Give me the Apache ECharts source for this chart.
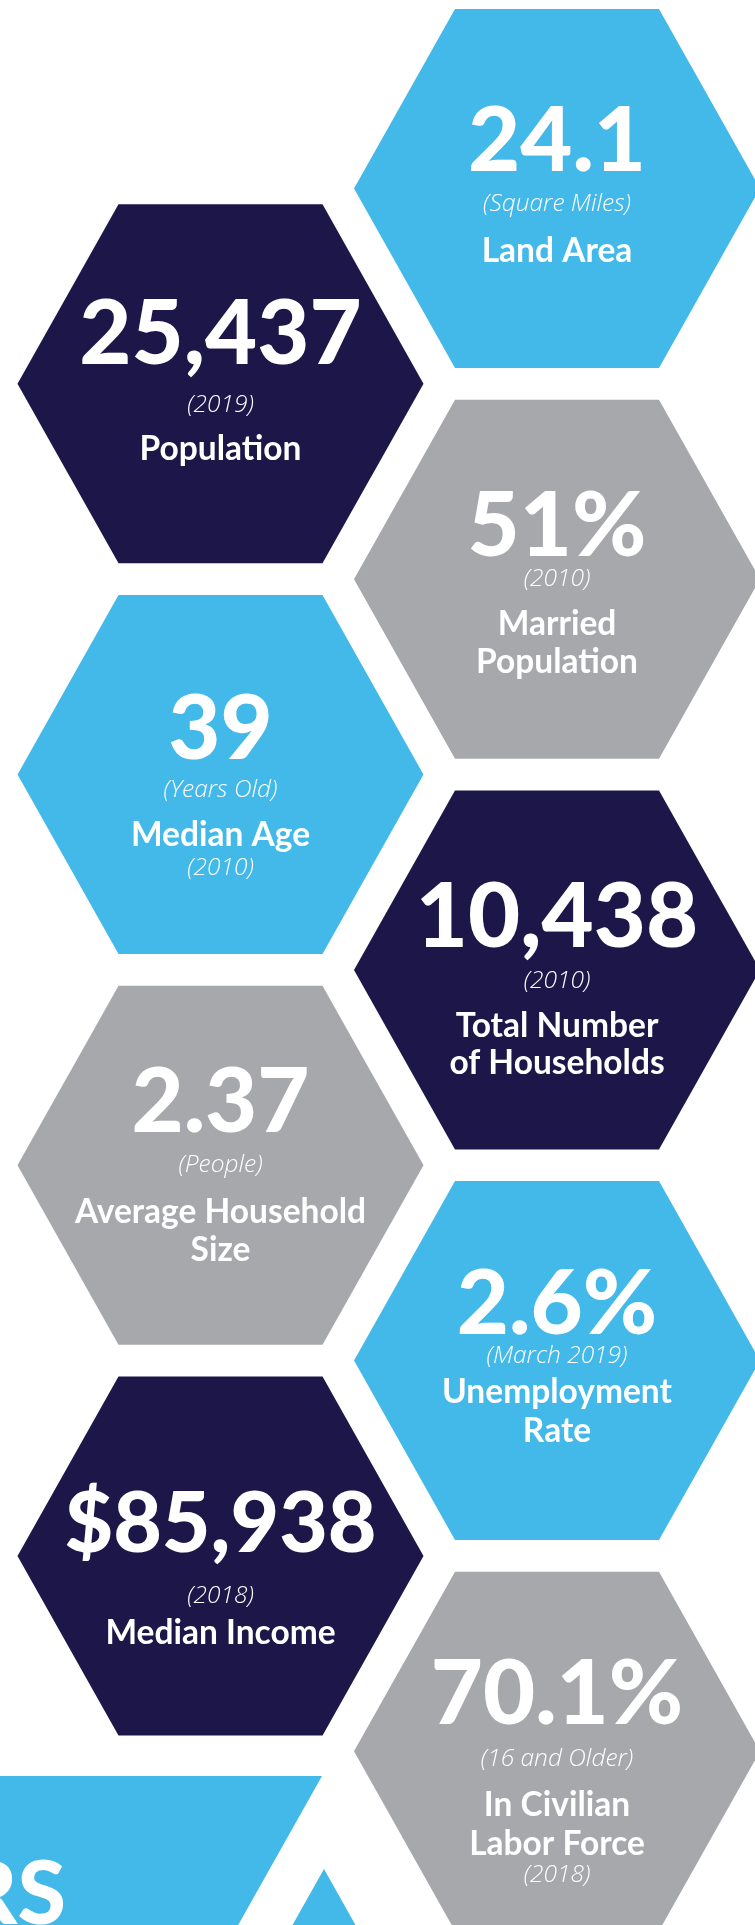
<!DOCTYPE html>
<html><head><meta charset="utf-8">
<script src="https://cdn.jsdelivr.net/npm/echarts@6/dist/echarts.min.js"></script>
<style>html,body{margin:0;padding:0;background:#fff}#c{width:755px;height:1925px}</style>
</head><body><div id="c"></div>
<script>
// ---- data ----
const values = ['24.1', '25,437', '51%', '39', '10,438', '2.37', '2.6%', '$85,938', '70.1%'];
const units  = ['(Square Miles)', '(2019)', '(2010)', '(Years Old)', '(2010)', '(People)', '(March 2019)', '(2018)', '(16 and Older)'];
const labels = ['Land Area', 'Population', 'Married\nPopulation', 'Median Age', 'Total Number\nof Households',
                'Average Household\nSize', 'Unemployment\nRate', 'Median Income', 'In Civilian\nLabor Force'];
const notes  = ['', '', '', '(2010)', '', '', '', '', '(2018)'];
const colorKeys = ['blue', 'navy', 'grey', 'blue', 'navy', 'grey', 'blue', 'navy', 'grey'];
const bannerText = 'RS';

// ---- layout (grid slots: column, half-row) ----
const hexCol  = [1, 0, 1, 0, 1, 0, 1, 0, 1];
const hexSlot = [0, 1, 2, 3, 4, 5, 6, 7, 8];
// baselines relative to hex centre (px)
const textLayout = [
  {num: -14.5, unit: 24.5, label: [74.5]},
  {num: -16,   unit: 30,   label: [77]},
  {num: -19.5, unit: 8.5,  label: [57.5, 95.5]},
  {num: -12.5, unit: 24.5, label: [72.5], note: 102.5},
  {num: -20,   unit: 20,   label: [68, 105]},
  {num: -29.5, unit: 8.5,  label: [59.5, 97.5]},
  {num: -23.5, unit: 4.5,  label: [43.5, 82.5]},
  {num: -0.5,  unit: 49.5, label: [89.5], small: true},
  {num: -23.5, unit: 16.5, label: [65.5, 104.5], note: 132.5}
];

// ---- styles ----
const COLORS = {blue: '#43B9EA', navy: '#1D1648', grey: '#A7A8AC'};
const HEX_R = 203, HEX_H = 179.5, HEX_T = 102;
const FONT = 'Lato', UNIT_FONT = '"Open Sans"';
const MID = 0.36, UNIT_MID = 0.37;
const NUM_SIZE = 90, NUM_SMALL = 84, UNIT_SIZE = 24.5, LABEL_SIZE = 33.5;

const X_MIN = -220.5 / 336.5, X_MAX = X_MIN + 755 / 336.5;
const Y_MIN = -188.46 / 195.36, Y_MAX = Y_MIN + 1925 / 195.36;

function txt(x, baseline, text, size, weight, fstyle, align, family, mid) {
  const m = mid || MID;
  return {
    type: 'text',
    style: {
      x: x, y: baseline - m * size, text: text, fill: '#ffffff',
      font: (fstyle || 'normal') + ' ' + weight + ' ' + size + 'px ' + (family || FONT),
      align: align || 'center', verticalAlign: 'middle'
    }
  };
}

function renderHex(params, api) {
  const i = api.value(2);
  const c = api.coord([api.value(0), api.value(1)]);
  const cx = c[0], cy = c[1];
  const L = textLayout[i];
  const children = [{
    type: 'polygon',
    shape: {points: [[cx - HEX_R, cy], [cx - HEX_T, cy - HEX_H], [cx + HEX_T, cy - HEX_H],
                     [cx + HEX_R, cy], [cx + HEX_T, cy + HEX_H], [cx - HEX_T, cy + HEX_H]]},
    style: {fill: COLORS[colorKeys[i]]}
  }];
  children.push(txt(cx, cy + L.num, values[i], L.small ? NUM_SMALL : NUM_SIZE, 900));
  children.push(txt(cx, cy + L.unit, units[i], UNIT_SIZE, 300, 'italic', 'center', UNIT_FONT, UNIT_MID));
  labels[i].split('\n').forEach(function (line, k) {
    children.push(txt(cx, cy + L.label[k], line, LABEL_SIZE, 700));
  });
  if (notes[i]) children.push(txt(cx, cy + L.note, notes[i], UNIT_SIZE, 300, 'italic', 'center', UNIT_FONT, UNIT_MID));
  return {type: 'group', children: children};
}

function renderDecor(params, api) {
  const c = api.coord([api.value(0), api.value(1)]);
  const cx = c[0], cy = c[1];
  const k = 0.5627;
  return {
    type: 'group',
    children: [
      {type: 'polygon', shape: {points: [[cx - 300, cy - 170.7], [cx + 101.5, cy - 170.7],
        [cx + 101.5 - k * 370.7, cy + 200], [cx - 300, cy + 200]]}, style: {fill: COLORS.blue}},
      {type: 'polygon', shape: {points: [[cx + 103.5, cy - 77.7], [cx + 103.5 - k * 277.7, cy + 200],
        [cx + 103.5 + k * 277.7, cy + 200]]}, style: {fill: COLORS.blue}},
      txt(cx - 154.5, cy - 19.7, bannerText, 88, 900, 'normal', 'right')
    ]
  };
}

const chart = echarts.init(document.getElementById('c'), null, {renderer: 'canvas'});
chart.setOption({
  animation: false,
  backgroundColor: '#ffffff',
  grid: {left: 0, right: 0, top: 0, bottom: 0},
  xAxis: {type: 'value', min: X_MIN, max: X_MAX, show: false},
  yAxis: {type: 'value', min: Y_MIN, max: Y_MAX, inverse: true, show: false},
  series: [
    {type: 'custom', renderItem: renderDecor, data: [[0, 9]], clip: false, silent: true},
    {type: 'custom', renderItem: renderHex, data: hexCol.map(function (c, i) { return [c, hexSlot[i], i]; }), clip: false, silent: true}
  ]
});
</script>
</body></html>
